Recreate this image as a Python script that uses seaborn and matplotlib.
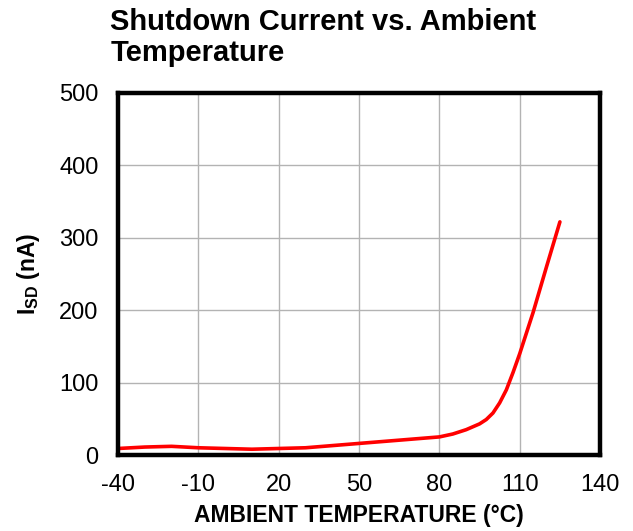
import matplotlib
matplotlib.use("Agg")
import matplotlib.pyplot as plt
import seaborn as sns
import pandas as pd

# Shutdown current vs. ambient temperature
temperature_c = [-40, -30, -20, -10, 0, 10, 20, 30, 40, 50, 60, 70, 80, 85, 90, 95,
                 97.5, 100, 102.5, 105, 107.5, 110, 115, 120, 125]
shutdown_na = [9, 11, 12, 10, 9, 8, 9, 10, 13, 16, 19, 22, 25, 29, 35, 43,
               49, 58, 72, 90, 114, 140, 197, 260, 322]

x_ticks = [-40, -10, 20, 50, 80, 110, 140]
y_ticks = [0, 100, 200, 300, 400, 500]

df = pd.DataFrame({"temp": temperature_c, "isd": shutdown_na})

sns.set_theme(style="white")
plt.rcParams["font.family"] = ["Liberation Sans", "DejaVu Sans"]
plt.rcParams["mathtext.fontset"] = "custom"
plt.rcParams["mathtext.rm"] = "Liberation Sans"
plt.rcParams["mathtext.bf"] = "Liberation Sans:bold"
plt.rcParams["axes.unicode_minus"] = False
plt.rcParams["text.color"] = "black"

fig = plt.figure(figsize=(6.33, 5.31), dpi=100)
ax = fig.add_axes([0.1864, 0.1431, 0.948 - 0.1864, 0.8249 - 0.1431])

sns.lineplot(data=df, x="temp", y="isd", ax=ax, color="#ff0000", linewidth=2.6,
             solid_capstyle="round", solid_joinstyle="round")

ax.set_xlim(-40, 140)
ax.set_ylim(0, 500)
ax.set_xticks(x_ticks)
ax.set_yticks(y_ticks)
ax.grid(True, color="#b3b3b3", linewidth=1.0)
ax.set_axisbelow(True)
for s in ax.spines.values():
    s.set_visible(True)
    s.set_color("black")
    s.set_linewidth(3.2)

ax.tick_params(axis="both", length=0, labelsize=17, colors="black")
ax.tick_params(axis="y", pad=14)
ax.tick_params(axis="x", pad=14)

ax.set_xlabel("AMBIENT TEMPERATURE (°C)", fontsize=16.5, fontweight="bold", color="black")
ax.set_ylabel(r"$\mathbf{I_{SD}}$ (nA)", fontsize=16.5, fontweight="bold", color="black")
ax.xaxis.set_label_coords(0.5, -0.136)
ax.yaxis.set_label_coords(-0.158, 0.5)

fig.text(0.174, 0.985, "Shutdown Current vs. Ambient\nTemperature", fontsize=21,
         fontweight="bold", ha="left", va="top", linespacing=1.12, color="black")

fig.savefig("out.png", dpi=100)
